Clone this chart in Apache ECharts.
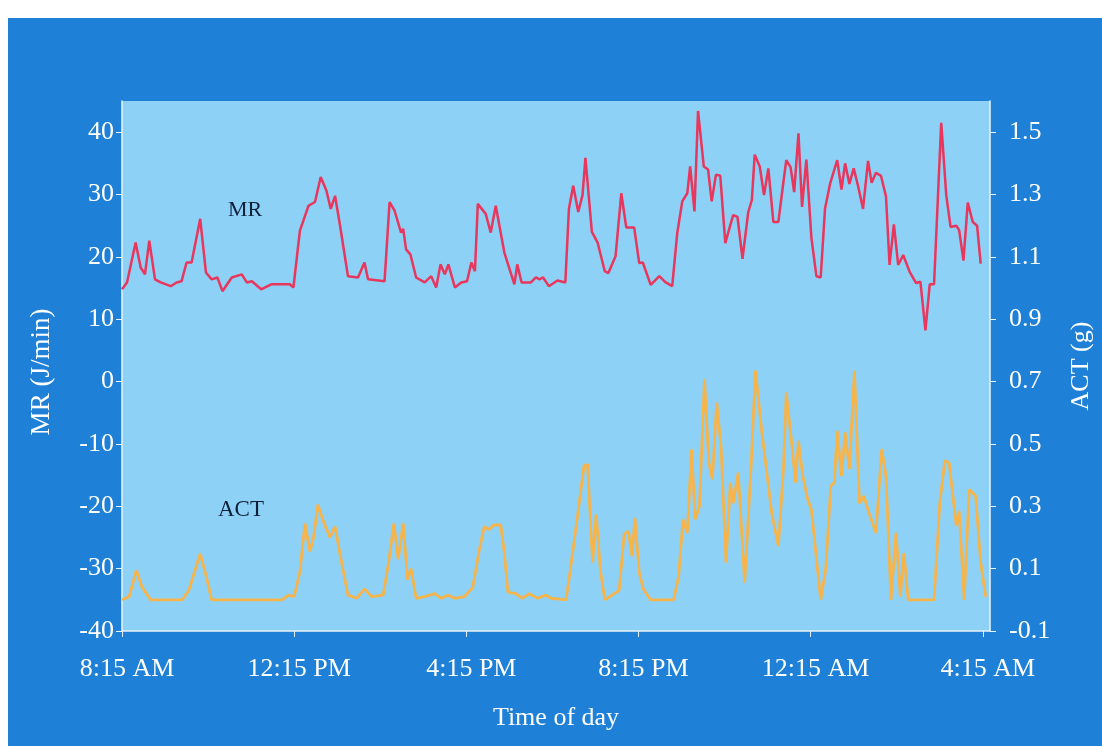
<!DOCTYPE html>
<html>
<head>
<meta charset="utf-8">
<script src="https://cdn.jsdelivr.net/npm/echarts@6/dist/echarts.min.js"></script>
<style>
  html, body { margin: 0; padding: 0; background: #ffffff; }
  #frame { position: absolute; left: 8px; top: 18px; width: 1094px; height: 728px; background: #1e80d6; }
  #chart { position: absolute; left: 0; top: 0; width: 1102px; height: 746px; }
</style>
</head>
<body>
<div id="frame"></div>
<div id="chart"></div>
<script>
// Time in minutes after 8:15 AM
const mrTime = [0,7,19,26,32,38,46,54,68,76,83,90,97,109,117,125,133,140,153,167,174,181,194,208,234,239,248,260,269,277,285,291,297,304,315,329,338,343,366,373,380,389,392,396,402,410,422,431,438,444,450,455,464,473,481,487,492,496,507,514,521,533,547,551,557,570,577,582,587,595,607,618,623,629,636,642,646,655,663,673,678,688,696,703,714,721,726,737,749,757,767,774,781,788,792,798,803,811,817,822,828,834,841,848,852,858,865,873,878,882,889,895,901,908,915,922,926,932,937,943,948,954,961,968,974,980,987,997,1003,1008,1014,1020,1026,1033,1040,1045,1051,1058,1065,1070,1076,1082,1089,1098,1107,1113,1120,1126,1132,1142,1149,1155,1163,1167,1173,1179,1186,1192,1197];
const mrValues = [14.8,15.9,22.3,18.3,17.2,22.6,16.4,15.9,15.3,15.9,16.1,19.1,19.1,26.1,17.5,16.4,16.7,14.5,16.7,17.2,15.9,16.1,14.8,15.6,15.6,15.1,24.2,28.2,28.8,32.8,30.6,27.7,29.8,25.0,16.9,16.7,19.1,16.4,16.1,28.8,27.4,23.9,24.5,21.2,20.4,16.7,15.9,16.9,15.1,18.8,17.2,18.8,15.1,15.9,16.1,19.1,17.7,28.5,26.9,23.9,28.2,20.7,15.6,18.8,15.9,15.9,16.7,16.4,16.7,15.3,16.2,15.9,27.7,31.4,27.2,29.9,35.9,24.0,22.3,17.7,17.4,20.1,30.2,24.7,24.7,19.0,19.1,15.5,16.9,16.0,15.3,23.8,28.9,30.2,34.5,27.3,43.4,34.5,34.0,28.9,33.2,33.0,22.2,25.1,26.7,26.4,19.7,27.2,29.1,36.4,34.5,29.9,34.2,25.6,25.6,32.0,35.5,34.4,30.4,39.8,28.0,35.6,23.1,16.9,16.7,27.7,31.7,35.5,30.8,35.0,31.7,34.2,31.4,27.7,35.4,31.9,33.5,33.0,29.7,18.7,25.2,18.7,20.3,17.6,15.8,16.0,8.2,15.6,15.6,41.5,29.9,24.8,25.0,24.3,19.4,28.7,25.6,25.0,18.9];

const actTime = [0,10,20,28,40,84,93,109,118,125,223,232,240,248,255,262,267,273,281,290,297,304,315,327,338,348,364,371,379,385,392,398,403,410,422,436,445,454,464,477,489,498,505,512,518,528,533,538,549,558,568,579,591,598,619,625,635,644,649,656,661,667,673,686,693,700,706,711,715,721,727,737,769,776,782,788,794,799,805,812,818,823,829,835,842,848,852,859,868,877,883,892,906,915,922,926,933,939,943,949,956,961,974,981,988,993,997,1003,1008,1014,1021,1028,1034,1042,1051,1059,1065,1072,1079,1085,1090,1096,1132,1140,1147,1153,1163,1167,1174,1181,1190,1197,1204];
const actValues = [0.0,0.01,0.095,0.04,0.0,0.0,0.03,0.148,0.07,0.0,0.0,0.015,0.01,0.09,0.245,0.155,0.2,0.305,0.25,0.2,0.235,0.145,0.015,0.005,0.035,0.01,0.015,0.11,0.245,0.13,0.245,0.065,0.1,0.005,0.01,0.02,0.005,0.015,0.005,0.01,0.04,0.16,0.235,0.225,0.24,0.24,0.15,0.025,0.02,0.005,0.02,0.005,0.015,0.005,0.0,0.097,0.269,0.43,0.435,0.119,0.274,0.092,0.0,0.02,0.03,0.21,0.22,0.14,0.263,0.087,0.033,0.0,0.0,0.076,0.258,0.215,0.483,0.258,0.3,0.708,0.44,0.386,0.633,0.494,0.119,0.376,0.31,0.408,0.054,0.43,0.735,0.537,0.274,0.172,0.419,0.665,0.515,0.376,0.51,0.397,0.322,0.29,0.0,0.097,0.365,0.376,0.542,0.397,0.537,0.419,0.735,0.31,0.333,0.274,0.215,0.483,0.397,0.0,0.215,0.01,0.15,0.0,0.0,0.31,0.446,0.44,0.237,0.285,0.0,0.354,0.333,0.119,0.01];

const xTickLabels = ['8:15 AM', '12:15 PM', '4:15 PM', '8:15 PM', '12:15 AM', '4:15 AM'];
const xTickStep = 240;

const mrData = mrTime.map((t, i) => [t, mrValues[i]]);
const actData = actTime.map((t, i) => [t, actValues[i]]);

const FONT = '"Liberation Serif", "DejaVu Serif", serif';
const chart = echarts.init(document.getElementById('chart'), null, { renderer: 'canvas' });
const axisLabelStyle = { color: '#ffffff', fontFamily: FONT, fontSize: 26 };
const nameStyle = { color: '#ffffff', fontFamily: FONT, fontSize: 26 };
const lineCol = '#e8f4ff';

chart.setOption({
  animation: false,
  backgroundColor: 'transparent',
  grid: {
    left: 122, right: 108, top: 101, bottom: 115,
    show: true, backgroundColor: '#8dd2f6', borderWidth: 0
  },
  xAxis: {
    type: 'value', min: 0, max: 1210, interval: xTickStep,
    name: 'Time of day', nameLocation: 'middle', nameGap: 74,
    nameTextStyle: nameStyle,
    axisLine: { show: true, onZero: false, lineStyle: { color: lineCol, width: 1.5 } },
    axisTick: { show: true, length: 6, lineStyle: { color: lineCol } },
    splitLine: { show: false },
    axisLabel: Object.assign({}, axisLabelStyle, {
      margin: 25, showMaxLabel: false, padding: [0, 0, 0, 10],
      formatter: v => xTickLabels[Math.round(v / xTickStep)] || ''
    })
  },
  yAxis: [
    {
      type: 'value', position: 'left', min: -40, max: 45, interval: 10,
      name: 'MR (J/min)', nameLocation: 'middle', nameGap: 67, nameRotate: 90,
      nameTextStyle: Object.assign({}, nameStyle, { fontSize: 27, padding: [0, 12, 0, 0] }),
      axisLine: { show: true, onZero: false, lineStyle: { color: lineCol, width: 1.5 } },
      axisTick: { show: true, length: 6, lineStyle: { color: lineCol } },
      splitLine: { show: false },
      axisLabel: Object.assign({}, axisLabelStyle, { margin: 8, showMaxLabel: false })
    },
    {
      type: 'value', position: 'right', min: -0.1, max: 1.6, interval: 0.2,
      name: 'ACT (g)', nameLocation: 'middle', nameGap: 78, nameRotate: 90,
      nameTextStyle: nameStyle,
      axisLine: { show: true, onZero: false, lineStyle: { color: lineCol, width: 1.5 } },
      axisTick: { show: true, length: 6, lineStyle: { color: lineCol } },
      splitLine: { show: false },
      axisLabel: Object.assign({}, axisLabelStyle, {
        margin: 19, showMaxLabel: false,
        formatter: v => v.toFixed(1)
      })
    }
  ],
  graphic: [
    { type: 'text', left: 228, top: 199, style: { text: 'MR', fill: '#10203a', font: '22px ' + FONT } },
    { type: 'text', left: 218, top: 498, style: { text: 'ACT', fill: '#10203a', font: '23px ' + FONT } }
  ],
  series: [
    {
      name: 'ACT', type: 'line', yAxisIndex: 1, data: actData,
      showSymbol: false, smooth: false,
      lineStyle: { color: '#f7b44a', width: 2.8 }
    },
    {
      name: 'MR', type: 'line', yAxisIndex: 0, data: mrData,
      showSymbol: false, smooth: false,
      lineStyle: { color: '#e8365c', width: 2.5 }
    }
  ]
});
</script>
</body>
</html>
